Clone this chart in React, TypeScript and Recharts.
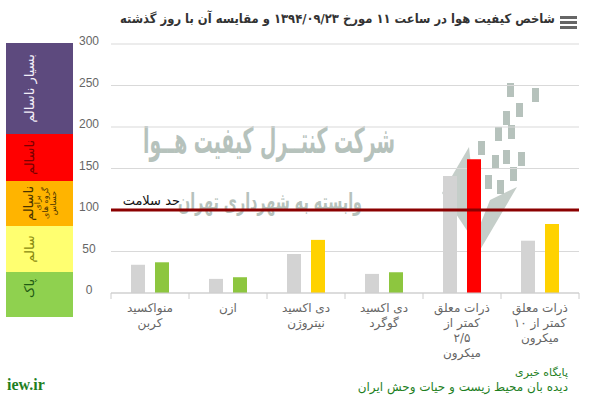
import React from 'react'
import { BarChart, Bar, XAxis, YAxis, CartesianGrid, ReferenceLine, Cell } from 'recharts'

// pollutant names, one entry per label line
const pollutants = [
  ['منواکسید', 'کربن'],
  ['ازن'],
  ['دی اکسید', 'نیتروژن'],
  ['دی اکسید', 'گوگرد'],
  ['ذرات معلق', 'کمتر از', '۲/۵', 'میکرون'],
  ['ذرات معلق', 'کمتر از ۱۰', 'میکرون'],
]
const yesterday = [34, 17, 47, 23, 141, 63]
const today = [37, 19, 64, 25, 161, 83]
const todayColors = ['#8dc63f', '#8dc63f', '#ffd200', '#8dc63f', '#ff0000', '#ffd200']
const yTicks = [0, 50, 100, 150, 200, 250, 300]
const healthLimit = 100

const bandLabels = ['بسیار ناسالم', 'ناسالم', 'ناسالم', 'سالم', 'پاک']
const bandColors = ['#5d4a7e', '#ff0000', '#ffb400', '#ffff70', '#8fd14f']
const bandTextColors = ['#f2eef8', '#7a0000', '#4a3300', '#8a8a10', '#1f5a14']

const data = pollutants.map((_, i) => ({
  id: i,
  yesterday: yesterday[i],
  today: today[i],
}))

const GRAY = '#666666'
const FA = '"DejaVu Sans", sans-serif'

function XTick(props: any) {
  const { x, y, payload, index, visibleTicksCount, width } = props
  const band = width / visibleTicksCount
  const lines = pollutants[payload.value] || []
  return (
    <g>
      <line x1={x - band / 2} x2={x - band / 2} y1={y} y2={y + 6} stroke="#cccccc" />
      {index === visibleTicksCount - 1 && (
        <line x1={x + band / 2} x2={x + band / 2} y1={y} y2={y + 6} stroke="#cccccc" />
      )}
      <text x={x} y={y + 19} textAnchor="middle" fill={GRAY} fontSize={12} fontFamily={FA}>
        {lines.map((l: string, i: number) => (
          <tspan key={i} x={x} dy={i === 0 ? 0 : 15}>{l}</tspan>
        ))}
      </text>
    </g>
  )
}

function YTick(props: any) {
  const { x, y, payload } = props
  return (
    <text x={x - 22} y={y + 1} textAnchor="middle" fill={GRAY} fontSize={12} fontFamily='"Liberation Sans", Arial, sans-serif'>
      {payload.value}
    </text>
  )
}

function LimitLabel(props: any) {
  const { viewBox } = props
  return (
    <text x={viewBox.x + 69} y={viewBox.y - 5} textAnchor="end" fill="#111" fontSize={13} fontFamily={FA}>
      حد سلامت
    </text>
  )
}

function Legend() {
  const edges = [43, 134, 181, 226, 272, 317]
  return (
    <svg width={80} height={330} style={{ position: 'absolute', left: 0, top: 0 }}>
      {bandColors.map((c, i) => {
        const top = edges[i]
        const h = edges[i + 1] - top
        const cy = top + h / 2
        return (
          <g key={i}>
            <rect x={6} y={top} width={67} height={h} fill={c} />
            <text
              transform={`translate(${i === 2 ? 28 : 29}, ${i === 4 ? cy - 6 : cy}) rotate(-90)`}
              textAnchor="middle"
              dominantBaseline="central"
              fill={bandTextColors[i]}
              fontSize={13}
              fontFamily={FA}
            >
              {bandLabels[i]}
            </text>
          </g>
        )
      })}
      <text transform={`translate(48, 203) rotate(-90)`} textAnchor="middle" fill="#4a3300" fontSize={8} fontFamily={FA}>
        <tspan x={0} dy={-8}>برای</tspan>
        <tspan x={0} dy={8}>گروه های</tspan>
        <tspan x={0} dy={8}>حساس</tspan>
      </text>
    </svg>
  )
}

function Watermark() {
  const c = '#b6c2bc'
  const squares = [
    [507, 83], [532, 88], [516, 103], [503, 111], [495, 127], [508, 125],
    [478, 141], [492, 155], [503, 150], [518, 152], [510, 167], [485, 175], [497, 180],
  ]
  return (
    <svg width={606} height={411} style={{ position: 'absolute', left: 0, top: 0 }}>
      <text x={143} y={153} textLength={252} lengthAdjust="spacingAndGlyphs" fill={c} fontSize={36} fontWeight="bold" fontFamily={FA}>
        شرکت کنتــرل کیفیت هــوا
      </text>
      <text x={178} y={210} textLength={184} lengthAdjust="spacingAndGlyphs" fill={c} fontSize={24} fontWeight="bold" fontFamily={FA}>
        وابسته به شهرداری تهران
      </text>
      <polygon points="469,147 442,193 480,250 517,187 490,200 478,230" fill={c} opacity={0.8} />
      {squares.map(([x, y], i) => (
        <rect key={i} x={x} y={y} width={7} height={14} fill={c} />
      ))}
    </svg>
  )
}

export default function App() {
  return (
    <div style={{ position: 'fixed', left: 0, top: 0, width: 606, height: 411, background: '#fff', overflow: 'hidden' }}>
      <Watermark />
      <Legend />
      <svg width={606} height={34} style={{ position: 'absolute', left: 0, top: 0 }}>
        <text
          x={555}
          y={23}
          textAnchor="end"
          textLength={435}
          lengthAdjust="spacingAndGlyphs"
          fill="#333"
          fontSize={13}
          fontWeight="bold"
          fontFamily={FA}
        >
          شاخص کیفیت هوا در ساعت ۱۱ مورخ ۱۳۹۴/۰۹/۲۳ و مقایسه آن با روز گذشته
        </text>
        <rect x={560} y={16} width={17} height={3} fill={GRAY} />
        <rect x={560} y={21} width={17} height={3} fill={GRAY} />
        <rect x={560} y={26} width={17} height={3} fill={GRAY} />
      </svg>
      <div style={{ position: 'absolute', left: 0, top: 0 }}>
        <BarChart
          width={606}
          height={411}
          data={data}
          margin={{ top: 44, right: 27, bottom: 48, left: 71 }}
          barSize={14}
          barGap={10}
        >
          <CartesianGrid vertical={false} stroke="#d9d9d9" />
          <XAxis
            dataKey="id"
            type="category"
            interval={0}
            height={70}
            axisLine={{ stroke: '#cccccc' }}
            tickLine={false}
            tickSize={0}
            tickMargin={0}
            tick={<XTick />}
          />
          <YAxis
            domain={[0, 300]}
            ticks={yTicks}
            interval={0}
            width={40}
            axisLine={false}
            tickLine={false}
            tickSize={0}
            tickMargin={0}
            tick={<YTick />}
          />
          <Bar dataKey="yesterday" fill="#d3d3d3" isAnimationActive={false} />
          <Bar dataKey="today" isAnimationActive={false}>
            {data.map((d, i) => (
              <Cell key={d.id} fill={todayColors[i]} />
            ))}
          </Bar>
          <ReferenceLine y={healthLimit} stroke="#8b0000" strokeWidth={3} label={<LimitLabel />} />
        </BarChart>
      </div>
      <div style={{ position: 'absolute', right: 38, top: 365, direction: 'rtl', fontFamily: FA, fontSize: 11, color: '#1f7f1f', lineHeight: '15px' }}>
        <div>پایگاه خبری</div>
        <div style={{ fontSize: 12 }}>دیده بان محیط زیست و حیات وحش ایران</div>
      </div>
      <div style={{ position: 'absolute', left: 7, top: 376, fontFamily: '"Liberation Serif", serif', fontWeight: 'bold', fontSize: 16, color: '#1f7f1f' }}>
        iew.ir
      </div>
    </div>
  )
}
